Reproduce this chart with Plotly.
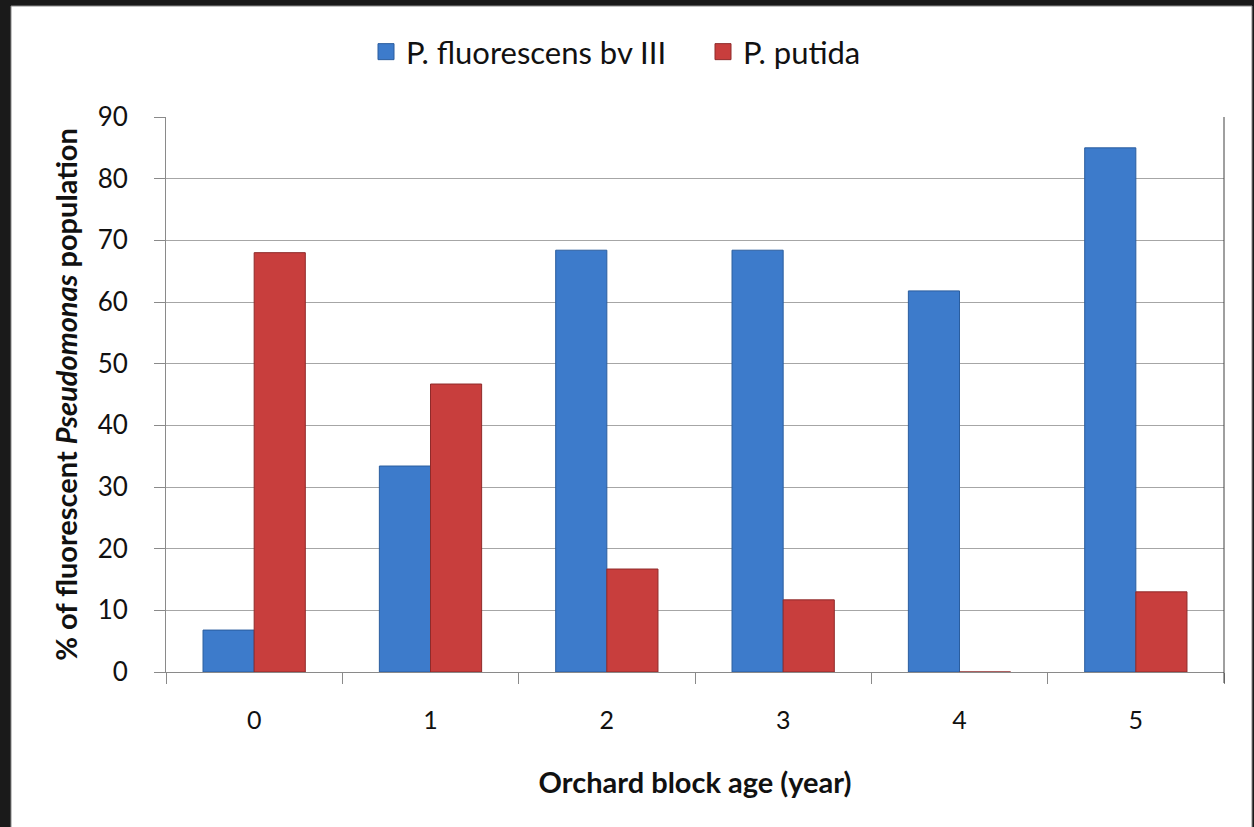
import plotly.graph_objects as go

# Orchard block age (years) and share of the fluorescent Pseudomonas population (%)
ages = ["0", "1", "2", "3", "4", "5"]
fluorescens_bv3 = [6.8, 33.4, 68.4, 68.4, 61.8, 85.0]
putida = [68.0, 46.7, 16.7, 11.7, 0.0, 13.0]
y_ticks = [0, 10, 20, 30, 40, 50, 60, 70, 80, 90]

series_names = ["P. fluorescens bv III", "P. putida"]
fill_colors = ["#3d7bcb", "#c83e3d"]
edge_colors = ["#2a5d9e", "#8f2a2a"]

FONT = "Lato"
W, H = 1254, 827
L, R, T, B = 166, 30, 117, 155
pw, ph = W - L - R, H - T - B

fig = go.Figure()
for vals, name, fc, ec in zip([fluorescens_bv3, putida], series_names, fill_colors, edge_colors):
    fig.add_trace(go.Bar(
        x=ages, y=vals, name=name, showlegend=False,
        marker=dict(color=fc, line=dict(color=ec, width=1)),
    ))

# legend keys drawn as larger squares
for name, fc, ec in zip(series_names, fill_colors, edge_colors):
    fig.add_trace(go.Scatter(
        x=[None], y=[None], mode="markers", name=name,
        marker=dict(symbol="square", size=19, color=fc, line=dict(color=ec, width=1)),
    ))


def px_x(p):
    return (p - L) / pw


def px_y(p):
    return (H - B - p) / ph


shapes = [
    # white sheet inside the dark frame
    dict(type="rect", xref="paper", yref="paper", layer="below",
         x0=px_x(11), x1=px_x(1252), y0=px_y(6), y1=px_y(840),
         fillcolor="white", line=dict(color="#8a8a8a", width=1)),
    # right edge of the plotting area
    dict(type="line", xref="paper", yref="paper",
         x0=1, x1=1, y0=px_y(683), y1=1,
         line=dict(color="#404040", width=1)),
]

fig.update_layout(
    width=W, height=H,
    margin=dict(l=L, r=R, t=T, b=B, pad=0),
    paper_bgcolor="#1a1a1a",
    plot_bgcolor="white",
    barmode="group",
    bargap=0.42,
    bargroupgap=0,
    font=dict(family=FONT, color="#111111", size=25),
    shapes=shapes,
    showlegend=True,
    legend=dict(
        orientation="h", x=px_x(366), xanchor="left",
        y=px_y(52), yanchor="middle",
        font=dict(family=FONT, size=31, color="#111111"),
        bgcolor="rgba(0,0,0,0)",
        traceorder="normal", itemwidth=30,
        entrywidth=292, entrywidthmode="pixels",
    ),
    xaxis=dict(
        type="category",
        tickson="boundaries",
        ticks="outside", ticklen=11, tickcolor="#8a8a8a", tickwidth=1,
        showline=True, linecolor="#8a8a8a", linewidth=1,
        showgrid=False,
        ticklabelstandoff=26,
        tickfont=dict(family=FONT, size=25, color="#111111"),
        title=dict(text="<b>Orchard block age (year)</b>",
                   font=dict(family=FONT, size=29, color="#111111"),
                   standoff=39),
    ),
    yaxis=dict(
        range=[0, 90],
        tickmode="array", tickvals=y_ticks,
        ticks="outside", ticklen=11, tickcolor="#8a8a8a", tickwidth=1,
        showline=True, linecolor="#8a8a8a", linewidth=1,
        showgrid=True, gridcolor="#a6a6a6", gridwidth=1,
        zeroline=False,
        ticklabelstandoff=21,
        tickfont=dict(family=FONT, size=26, color="#111111"),
        title=dict(text="<b>% of fluorescent <i>Pseudomonas</i> population</b>",
                   font=dict(family=FONT, size=29, color="#111111"),
                   standoff=11),
    ),
)

fig.write_html("out.html")
